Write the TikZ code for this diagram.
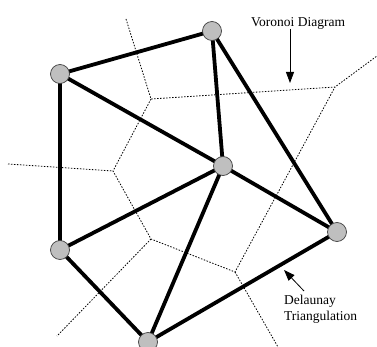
\documentclass[tikz,border=0pt]{standalone}
\usepackage{fontspec}
\setmainfont{Liberation Serif}
\usetikzlibrary{arrows.meta,backgrounds}
\begin{document}
\begin{tikzpicture}[x=1pt,y=-1pt,
  site/.style={circle,draw=black!75,line width=0.7pt,fill=black!25,minimum size=19pt,inner sep=0pt},
  dedge/.style={line width=3.8pt,black},
  vedge/.style={line width=0.8pt,black,dash pattern=on 1.5pt off 1.5pt},
  callout/.style={line width=0.8pt,-{Triangle[length=11pt,width=8pt]}},
  lbl/.style={font=\fontsize{13.5}{16}\selectfont,inner sep=0pt,anchor=base west}]
\useasboundingbox (0,0) rectangle (377,347);
\clip (0,0) rectangle (377,347);

% Delaunay sites
\node[site] (a) at (60,74) {};
\node[site] (b) at (212,31) {};
\node[site] (c) at (223,166) {};
\node[site] (d) at (337,232) {};
\node[site] (e) at (60,250) {};
\node[site] (f) at (148,342) {};

% Voronoi vertices and open ends
\coordinate (v1) at (151,99);
\coordinate (v2) at (113,171);
\coordinate (v3) at (151,239);
\coordinate (v4) at (235,272);
\coordinate (v5) at (335,87);
\coordinate (e1) at (126,19);
\coordinate (e2) at (8,164);
\coordinate (e3) at (57,336);
\coordinate (e4) at (278,347);
\coordinate (e5) at (377,56);

\begin{scope}[on background layer]
  % Voronoi diagram
  \draw[vedge] (e1) -- (v1) -- (v5) -- (e5);
  \draw[vedge] (v1) -- (v2) -- (v3) -- (v4) -- (v5);
  \draw[vedge] (e2) -- (v2);
  \draw[vedge] (v3) -- (e3);
  \draw[vedge] (v4) -- (e4);
  % Delaunay triangulation
  \draw[dedge] (a.center) -- (b.center);
  \draw[dedge] (a.center) -- (c.center);
  \draw[dedge] (a.center) -- (e.center);
  \draw[dedge] (b.center) -- (c.center);
  \draw[dedge] (b.center) -- (d.center);
  \draw[dedge] (c.center) -- (d.center);
  \draw[dedge] (c.center) -- (e.center);
  \draw[dedge] (c.center) -- (f.center);
  \draw[dedge] (e.center) -- (f.center);
  \draw[dedge] (f.center) -- (d.center);
\end{scope}

% labels with pointers
\node[lbl] (vlab) at (251,27) {Voronoi Diagram};
\coordinate (vtail) at (290,29);
\coordinate (vtip) at (290,83);
\draw[callout] (vtail) -- (vtip);

\node[lbl] (dlab1) at (284,304) {Delaunay};
\node[lbl] (dlab2) at (284,320) {Triangulation};
\coordinate (dtail) at (304,291);
\coordinate (dtip) at (284,270);
\draw[callout] (dtail) -- (dtip);
\end{tikzpicture}
\end{document}
